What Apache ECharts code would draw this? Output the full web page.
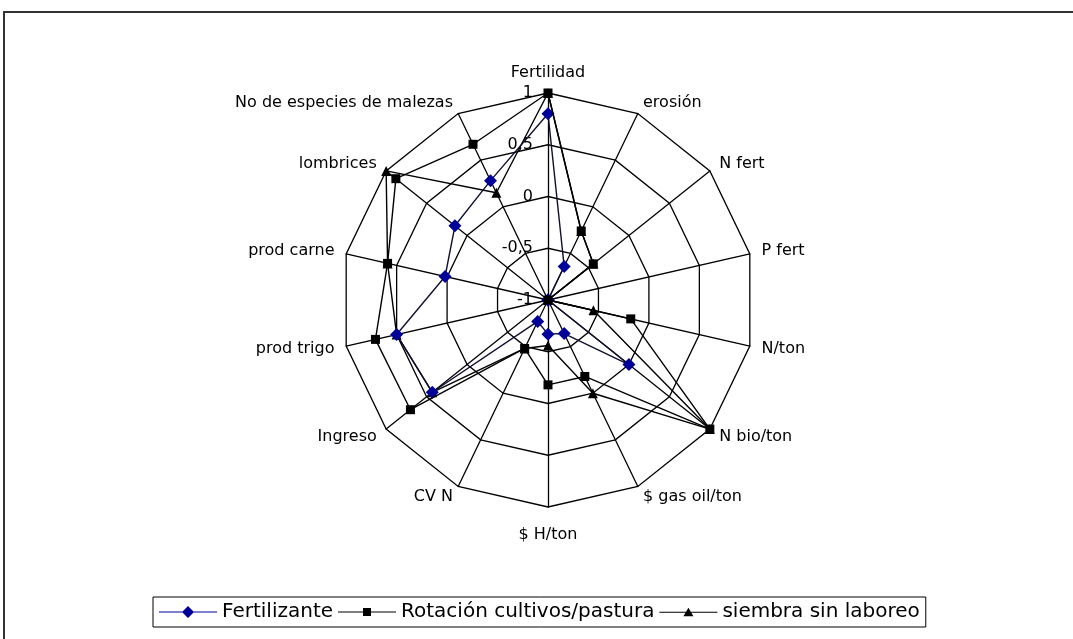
<!DOCTYPE html>
<html>
<head>
<meta charset="utf-8">
<script src="https://cdn.jsdelivr.net/npm/echarts@6/dist/echarts.min.js"></script>
<style>
html,body{margin:0;padding:0;background:#fff;}
#chart{width:1073px;height:639px;}
</style>
</head>
<body>
<div id="chart"></div>
<script>
// Categories listed clockwise from the top
const categories = ['Fertilidad', 'erosión', 'N fert', 'P fert', 'N/ton', 'N bio/ton', '$ gas oil/ton', '$ H/ton', 'CV N', 'Ingreso', 'prod trigo', 'prod carne', 'lombrices', 'No de especies de malezas'];
const fertilizante = [0.8, -0.64, -1, -1, -1, 0.0, -0.64, -0.67, -0.77, 0.43, 0.50, 0.02, 0.15, 0.28];
const rotacion = [1, -0.26, -0.44, -1, -0.18, 1, -0.18, -0.18, -0.48, 0.70, 0.71, 0.59, 0.88, 0.67];
const siembra = [1, -0.26, -0.44, -1, -0.55, 1, 0.0, -0.56, -0.48, 0.43, 0.50, 0.59, 1.0, 0.15];
const seriesNames = ['Fertilizante', 'Rotación cultivos/pastura', 'siembra sin laboreo'];
const tickValues = [-1, -0.5, 0, 0.5, 1];
const tickLabels = ['-1', '-0,5', '0', '0,5', '1'];

// ECharts radar runs counter-clockwise; reorder so the picture runs clockwise
const order = [0];
for (let i = categories.length - 1; i >= 1; i--) order.push(i);
const reorder = arr => order.map(i => arr[i]);

const indicator = order.map(i => {
  const o = { name: categories[i], min: -1, max: 1 };
  if (i === 0) o.axisLabel = { show: true };
  return o;
});

const font = 'DejaVu Sans';
const lineBar = 'M0 5.5 L58 5.5 L58 6.5 L0 6.5 Z ';
const icons = [
  'path://' + lineBar + 'M29 0 L35 6 L29 12 L23 6 Z',
  'path://' + lineBar + 'M25 2 L33 2 L33 10 L25 10 Z',
  'path://' + lineBar + 'M29 1.5 L34 10 L24 10 Z'
];

const chart = echarts.init(document.getElementById('chart'), null, { renderer: 'canvas' });
chart.setOption({
  backgroundColor: '#fff',
  animation: false,
  graphic: [{
    type: 'rect', silent: true,
    shape: { x: 4, y: 12, width: 1120, height: 700 },
    style: { fill: 'none', stroke: '#333', lineWidth: 2 }
  }],
  legend: {
    left: 153, top: 597,
    orient: 'horizontal',
    selectedMode: false,
    padding: [5, 6],
    itemGap: 5,
    itemWidth: 58, itemHeight: 12,
    borderColor: '#000', borderWidth: 1,
    backgroundColor: '#fff',
    textStyle: { color: '#000', fontFamily: font, fontSize: 20 },
    data: seriesNames.map((n, k) => ({ name: n, icon: icons[k] }))
  },
  radar: {
    center: [548, 300],
    radius: 207,
    startAngle: 90,
    shape: 'polygon',
    splitNumber: 4,
    nameGap: 12,
    indicator: indicator,
    axisName: { color: '#000', fontFamily: font, fontSize: 16, padding: [8, 0, 0, 0] },
    axisLine: { lineStyle: { color: '#000', width: 1.3 } },
    splitLine: { lineStyle: { color: '#000', width: 1.3 } },
    splitArea: { show: false },
    axisTick: { show: false },
    axisLabel: {
      show: false, color: '#000', fontFamily: font, fontSize: 16, margin: 15,
      formatter: v => {
        const k = tickValues.findIndex(t => Math.abs(t - v) < 1e-9);
        return k >= 0 ? tickLabels[k] : String(v).replace('.', ',');
      }
    }
  },
  series: [
    {
      name: seriesNames[0], type: 'radar', z: 3,
      symbol: 'diamond', symbolSize: 13,
      itemStyle: { color: '#000099' },
      lineStyle: { color: '#101030', width: 1.4 },
      data: [{ value: reorder(fertilizante), name: seriesNames[0] }]
    },
    {
      name: seriesNames[1], type: 'radar', z: 4,
      symbol: 'rect', symbolSize: 9,
      itemStyle: { color: '#000' },
      lineStyle: { color: '#000', width: 1.4 },
      data: [{ value: reorder(rotacion), name: seriesNames[1] }]
    },
    {
      name: seriesNames[2], type: 'radar', z: 2,
      symbol: 'triangle', symbolSize: 10,
      itemStyle: { color: '#000' },
      lineStyle: { color: '#000', width: 1.4 },
      data: [{ value: reorder(siembra), name: seriesNames[2] }]
    }
  ]
});
</script>
</body>
</html>
